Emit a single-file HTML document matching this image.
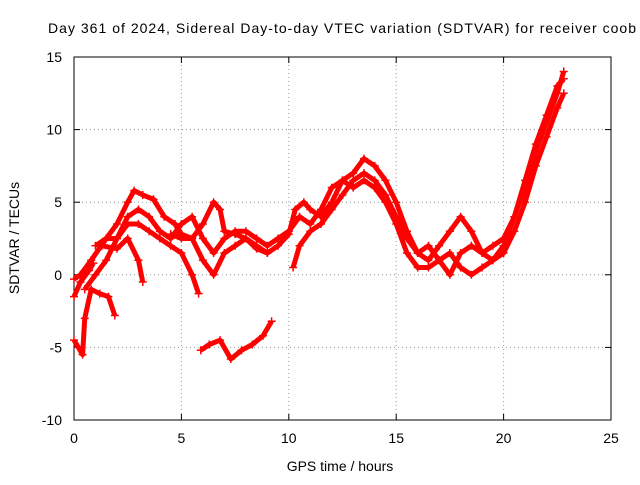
<!DOCTYPE html>
<html><head><meta charset="utf-8"><style>
body{margin:0;background:#fff;}
svg text{font-family:"Liberation Sans",sans-serif;font-size:14px;fill:#000;}
</style></head><body>
<svg width="640" height="480">
<g id="grid"></g>
<rect x="74" y="57" width="537" height="363" fill="none" stroke="#000"/>
<g id="ticks"></g>
<g id="series"></g>
<text x="48" y="33" textLength="588" lengthAdjust="spacing">Day 361 of 2024, Sidereal Day-to-day VTEC variation (SDTVAR) for receiver coob</text>
<text x="340" y="471" text-anchor="middle">GPS time / hours</text>
<text transform="translate(19,238) rotate(-90)" text-anchor="middle">SDTVAR / TECUs</text>
</svg>
<script>
const xTicks=[0,5,10,15,20,25];
const yTicks=[-10,-5,0,5,10,15];
const trackA=[[0,-0.3],[0.3,0],[0.8,1],[1.5,2.5],[2,3.5],[2.5,5],[2.8,5.8],[3.2,5.5],[3.7,5.2],[4.2,4],[4.7,3.5],[5,2.8],[5.5,2.5],[6,3.5],[6.5,5],[6.8,4.5],[7,3],[7.5,2.8],[8,2.5],[8.5,1.8],[9,1.5],[9.5,2],[10,2.8],[10.3,4.5],[10.7,5],[11,4.5],[11.5,4],[12,5],[12.5,6.5],[13,7],[13.5,8],[14,7.5],[14.5,6.5],[15,5],[15.5,3],[16,1.5],[16.5,1],[17,2],[17.5,3],[18,4],[18.5,3],[19,1.5],[19.5,1],[20,2],[20.5,4],[21,6],[21.5,8.5],[22,10.5],[22.5,12.5],[22.8,14]];
const trackB=[[0.5,-1],[1,0],[1.5,1],[2,2.5],[2.5,4],[3,4.5],[3.5,4],[4,3],[4.5,2.5],[5,3.5],[5.5,4],[6,2.5],[6.5,1.5],[7,2.5],[7.5,3],[8,3],[8.5,2.5],[9,2],[9.5,2.5],[10,3],[10.5,4],[11,3.5],[11.5,4.5],[12,6],[12.5,6.5],[13,6],[13.5,6.5],[14,6],[14.5,5],[15,3.5],[15.5,1.5],[16,0.5],[16.5,0.5],[17,1],[17.5,1.5],[18,0.5],[18.5,0],[19,0.5],[19.5,1],[20,1.5],[20.5,3],[21,5],[21.5,7.5],[22,9.5],[22.5,11.5],[22.8,12.5]];
const trackC=[[1,2],[1.5,2.5],[2,2.5],[2.5,3.5],[3,3.5],[3.5,3],[4,2.5],[4.5,2],[5,1.5],[5.5,0],[5.8,-1.3]];
const trackD=[[1.3,2],[2,1.8],[2.5,2.5],[3,1],[3.2,-0.5]];
const trackE=[[0,-4.5],[0.2,-5],[0.4,-5.5],[0.5,-3],[0.8,-1],[1.2,-1.3],[1.6,-1.5],[1.9,-2.8]];
const trackF=[[5.9,-5.2],[6.3,-4.8],[6.8,-4.5],[7.3,-5.8],[7.8,-5.2],[8.3,-4.8],[8.8,-4.2],[9.2,-3.2]];
const trackG=[[0,-1.5],[0.3,-0.5],[0.7,0.3],[0.9,0.8]];
const trackH=[[10.2,0.5],[10.5,2],[11,3],[11.5,3.5],[12,4.5],[12.5,5.5],[13,6.5],[13.5,7],[14,6.5],[14.5,5.5],[15,4],[15.5,2.5],[16,1.5],[16.5,2],[17,1],[17.5,0],[18,1.5],[18.5,2],[19,1.5],[19.5,2],[20,2.5],[20.5,4],[21,6.5],[21.5,9],[22,11],[22.5,13],[22.8,13.5]];
const trackI=[[4.5,2.8],[5,2.5],[5.5,2.5],[6,1],[6.5,0],[7,1.5],[7.5,2],[8,2.5],[8.5,2],[9,1.5]];
const tracks=[trackA,trackB,trackC,trackD,trackE,trackF,trackG,trackH,trackI];
const NS="http://www.w3.org/2000/svg";
const X=v=>74+v*(537/25), Y=v=>420-(v+10)*(363/25);
function mk(t,a,p){const e=document.createElementNS(NS,t);for(const k in a)e.setAttribute(k,a[k]);p.appendChild(e);return e;}
const grid=document.getElementById('grid'),ticks=document.getElementById('ticks'),ser=document.getElementById('series');
xTicks.forEach(v=>{
 if(v>0&&v<25){const l=mk('line',{x1:X(v),x2:X(v),y1:57,y2:420,stroke:'#999','stroke-dasharray':'1,3'},grid);
 
 }
 const t=mk('text',{x:X(v),y:443,'text-anchor':'middle'},ticks);t.textContent=v;
 
 
 mk('line',{x1:X(v),x2:X(v),y1:420,y2:414,stroke:'#000'},ticks);
 mk('line',{x1:X(v),x2:X(v),y1:57,y2:63,stroke:'#000'},ticks);
});
yTicks.forEach(v=>{
 if(v>-10&&v<15){const l=mk('line',{x1:74,x2:611,y1:Y(v),y2:Y(v),stroke:'#999','stroke-dasharray':'1,3'},grid);
 
 }
 const t=mk('text',{x:62,y:Y(v)+5,'text-anchor':'end'},ticks);t.textContent=v;
 
 
 mk('line',{x1:74,x2:80,y1:Y(v),y2:Y(v),stroke:'#000'},ticks);
 mk('line',{x1:611,x2:605,y1:Y(v),y2:Y(v),stroke:'#000'},ticks);
});
tracks.forEach((tr,i)=>{
 const g=mk('g',{},ser);
 
 
 mk('polyline',{points:tr.map(p=>X(p[0])+','+Y(p[1])).join(' '),fill:'none',stroke:'#f00','stroke-width':5,'stroke-linejoin':'round'},g);
 tr.forEach(p=>{const cx=X(p[0]),cy=Y(p[1]);
  mk('path',{d:`M${cx-4},${cy}H${cx+4}M${cx},${cy-4}V${cy+4}`,stroke:'#f00','stroke-width':1.5},g);});
});
</script>
</body></html>
